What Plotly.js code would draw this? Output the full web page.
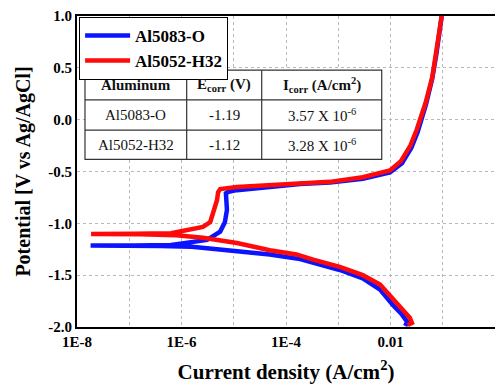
<!DOCTYPE html>
<html>
<head>
<meta charset="utf-8">
<script src="https://cdn.plot.ly/plotly-3.0.1.min.js"></script>
<style>html,body{margin:0;padding:0;background:#fff;}#chart{width:496px;height:386px;}</style>
</head>
<body>
<div id="chart"></div>
<script>
// ---- Data ----
var seriesNames = ['Al5083-O', 'Al5052-H32'];

// Al5083-O : potential (V vs Ag/AgCl) and current density (A/cm2)
var potentialAl5083 = [-1.99,-1.95,-1.88,-1.79,-1.64,-1.53,-1.45,-1.375,-1.345,-1.30,-1.27,-1.24,-1.225,-1.218,-1.216,-1.215,-1.213,-1.208,-1.19,-1.16,-1.08,-0.99,-0.87,-0.775,-0.71,-0.695,-0.68,-0.65,-0.62,-0.605,-0.57,-0.51,-0.42,-0.27,-0.12,0.15,0.40,0.64,0.87,1.0];
var currentAl5083 = [0.0191,0.0209,0.0166,0.0112,0.00631,0.00295,0.00107,3.31e-4,1.86e-4,4.90e-5,1.15e-5,3.98e-6,1.58e-6,3.98e-7,1.0e-7,1.82e-8,1.26e-7,6.3e-7,1.29e-6,3.09e-6,5.50e-6,6.76e-6,7.41e-6,7.08e-6,7.08e-6,7.94e-6,1.15e-5,4.90e-5,1.86e-4,6.92e-4,2.95e-3,9.77e-3,0.0166,0.0251,0.0331,0.0479,0.0631,0.0759,0.0871,0.0955];

// Al5052-H32
var potentialAl5052 = [-1.98,-1.96,-1.91,-1.84,-1.74,-1.59,-1.50,-1.42,-1.35,-1.30,-1.26,-1.19,-1.14,-1.115,-1.105,-1.103,-1.100,-1.095,-1.064,-1.035,-0.987,-0.90,-0.775,-0.70,-0.67,-0.65,-0.63,-0.61,-0.60,-0.555,-0.49,-0.40,-0.25,-0.10,0.16,0.41,0.64,0.87,1.0];
var currentAl5052 = [0.0214,0.0257,0.0234,0.0174,0.0112,0.00631,0.00295,0.00107,3.31e-4,1.58e-4,4.90e-5,1.15e-5,2.57e-6,7.9e-7,1.6e-7,1.86e-8,1.26e-7,6.3e-7,1.45e-6,2.57e-6,3.55e-6,3.98e-6,4.79e-6,5.01e-6,5.50e-6,1.15e-5,4.90e-5,1.86e-4,6.92e-4,2.95e-3,9.77e-3,0.0158,0.0240,0.0316,0.0468,0.0631,0.0759,0.0871,0.0955];

// Axis ticks
var xTickVals = [1e-8,1e-6,1e-4,1e-2,1];
var xTickText = ['1E-8','1E-6','1E-4','0.01','1'];
var xMinorVals = [1e-7,1e-5,1e-3,1e-1];
var yTickVals = [-2,-1.5,-1,-0.5,0,0.5,1];
var yTickText = ['-2.0','-1.5','-1.0','-0.5','0.0','0.5','1.0'];

// Inset table
var tableHeader = ['<b>Aluminum</b>', '<b>E<sub>corr</sub> (V)</b>', '<b>I<sub>corr</sub> (A/cm<sup>2</sup>)</b>'];
var tableAlloy = ['Al5083-O', 'Al5052-H32'];
var tableEcorr = ['-1.19', '-1.12'];
var tableIcorr = ['3.57 X 10<sup>-6</sup>', '3.28 X 10<sup>-6</sup>'];

// ---- Chart ----
var FONT = 'Liberation Serif';
function bold(s) { return '<b>' + s + '</b>'; }

var traces = [
  {x: currentAl5083, y: potentialAl5083, name: bold(seriesNames[0]), type: 'scatter', mode: 'lines',
   line: {color: '#0a14ff', width: 4.5}},
  {x: currentAl5052, y: potentialAl5052, name: bold(seriesNames[1]), type: 'scatter', mode: 'lines',
   line: {color: '#ff0a0a', width: 4.5}}
];

// table geometry (paper coords)
var tx = [0.0191, 0.2624, 0.4419, 0.7290];
var ty = [0.826, 0.730, 0.633, 0.539];
var shapes = [{type: 'rect', xref: 'paper', yref: 'paper', x0: tx[0], x1: tx[3], y0: ty[3], y1: ty[0],
  fillcolor: 'white', line: {color: '#333', width: 1.2}, layer: 'above'}];
[tx[1], tx[2]].forEach(function (v) {
  shapes.push({type: 'line', xref: 'paper', yref: 'paper', x0: v, x1: v, y0: ty[3], y1: ty[0],
    line: {color: '#333', width: 1.2}, layer: 'above'});
});
[ty[1], ty[2]].forEach(function (v) {
  shapes.push({type: 'line', xref: 'paper', yref: 'paper', x0: tx[0], x1: tx[3], y0: v, y1: v,
    line: {color: '#333', width: 1.2}, layer: 'above'});
});

var colC = [(tx[0] + tx[1]) / 2, (tx[1] + tx[2]) / 2, (tx[2] + tx[3]) / 2];
var rowC = [(ty[0] + ty[1]) / 2, (ty[1] + ty[2]) / 2, (ty[2] + ty[3]) / 2];
var annotations = [];
function cell(text, c, r) {
  annotations.push({xref: 'paper', yref: 'paper', x: colC[c], y: rowC[r], text: text, showarrow: false,
    xanchor: 'center', yanchor: 'middle', font: {family: FONT, size: 15, color: '#111'}});
}
tableHeader.forEach(function (t, c) { cell(t, c, 0); });
for (var i = 0; i < tableAlloy.length; i++) {
  cell(tableAlloy[i], 0, i + 1);
  cell(tableEcorr[i], 1, i + 1);
  cell(tableIcorr[i], 2, i + 1);
}

var axisCommon = {
  showgrid: true, gridcolor: '#b8b8b8', griddash: 'dot', gridwidth: 1,
  showline: true, linecolor: '#000', linewidth: 2, zeroline: false, ticks: '',
  tickfont: {family: FONT, size: 15, color: '#000'}
};

var layout = {
  width: 496, height: 386,
  margin: {l: 77, r: 1, t: 16, b: 59, pad: 0},
  paper_bgcolor: '#fff', plot_bgcolor: '#fff',
  font: {family: FONT, size: 15, color: '#000'},
  showlegend: true,
  legend: {x: 0.005, y: 0.997, xanchor: 'left', yanchor: 'top', bgcolor: '#fff',
    bordercolor: '#000', borderwidth: 1, font: {family: FONT, size: 17, color: '#000'},
    itemwidth: 45, tracegroupgap: 0},
  xaxis: Object.assign({}, axisCommon, {
    type: 'log', range: [-8, 0], tickmode: 'array', tickvals: xTickVals, ticktext: xTickText.map(bold), mirror: true,
    minor: {tickmode: 'array', tickvals: xMinorVals, showgrid: true, gridcolor: '#b8b8b8', griddash: 'dot', gridwidth: 1, ticks: ''},
    title: {text: bold('Current density (A/cm<sup>2</sup>)'), standoff: 15,
      font: {family: FONT, size: 21, color: '#000'}}
  }),
  yaxis: Object.assign({}, axisCommon, {
    range: [-2, 1], tickmode: 'array', tickvals: yTickVals, ticktext: yTickText.map(bold), mirror: false,
    title: {text: bold('Potential [V vs Ag/AgCl]'), standoff: 12,
      font: {family: FONT, size: 20, color: '#000'}}
  }),
  shapes: shapes,
  annotations: annotations
};

Plotly.newPlot('chart', traces, layout, {staticPlot: true, displayModeBar: false});
</script>
</body>
</html>
